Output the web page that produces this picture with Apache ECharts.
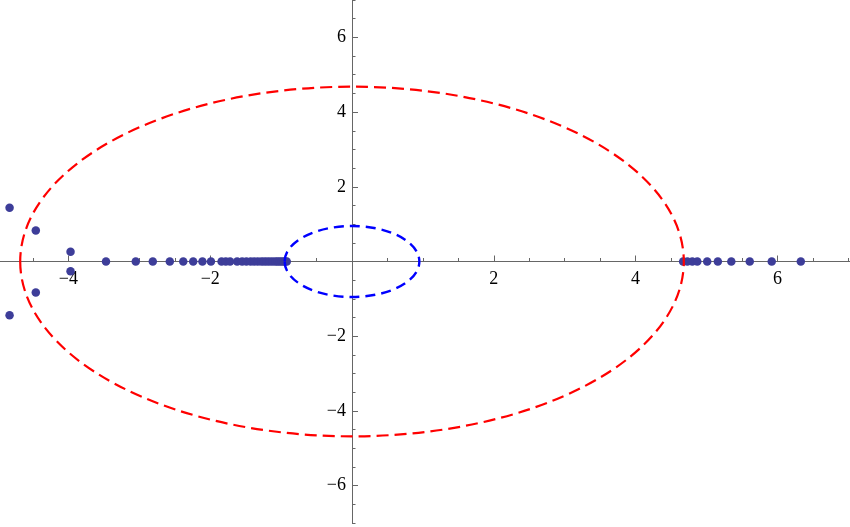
<!DOCTYPE html>
<html>
<head>
<meta charset="utf-8">
<script src="https://cdn.jsdelivr.net/npm/echarts@6/dist/echarts.min.js"></script>
<style>
html,body{margin:0;padding:0;background:#fff;}
#chart{width:850px;height:527px;}
</style>
</head>
<body>
<div id="chart"></div>
<script>
// Points on the real axis (x values)
const realPointsX = [
  -3.47, -3.05, -2.81, -2.57, -2.38, -2.24, -2.11, -1.99,
  -1.84, -1.78, -1.72,
  -1.62, -1.55, -1.49, -1.43, -1.38, -1.33, -1.28, -1.24, -1.20,
  -1.16, -1.12, -1.08, -1.05, -1.02, -0.99, -0.96, -0.94, -0.92,
  4.67, 4.73, 4.80, 4.87, 5.01, 5.16, 5.35, 5.61, 5.92, 6.33
];
// Complex points (re, im)
const complexRe = [-4.83, -4.83, -4.46, -4.46, -3.97, -3.97];
const complexIm = [1.44, -1.44, 0.83, -0.83, 0.26, -0.26];
// Dashed circles: radius
const redRadius = 4.68;
const blueRadius = 0.95;

// Axis ranges and tick values
const xRange = [-4.965, 7.024];
const yRange = [-7, 7];
const xLabels = [-4, -2, 2, 4, 6];
const yLabels = [-6, -4, -2, 2, 4, 6];
const xMajorTicks = [-4, -2, 0, 2, 4, 6];
const yMajorTicks = [-6, -4, -2, 0, 2, 4, 6];
const xMinorTicks = [-4.5, -3.5, -3, -2.5, -1.5, -1, -0.5, 0.5, 1, 1.5, 2.5, 3, 3.5, 4.5, 5, 5.5, 6.5, 7];
const yMinorTicks = [-7, -6.5, -5.5, -5, -4.5, -3.5, -3, -2.5, -1.5, -1, -0.5, 0.5, 1, 1.5, 2.5, 3, 3.5, 4.5, 5, 5.5, 6.5, 7];

const pointData = realPointsX.map(x => [x, 0])
  .concat(complexRe.map((re, i) => [re, complexIm[i]]));

const circles = [
  {value: [0, 0, redRadius], color: '#ff0000', width: 2.2, dash: [12, 6]},
  {value: [0, 0, blueRadius], color: '#0000ff', width: 2.4, dash: [10, 6]}
];

const fmt = v => String(v).replace('-', '\u2212');
const axisColor = '#666666';
const fontFamily = 'Liberation Serif';
const W = 850, H = 527;
const gridPos = {left: 0, right: 0, top: 0, bottom: 4, containLabel: false, outerBoundsMode: 'none'};
const plotH = H - gridPos.bottom;
// axis offsets so that axes cross at (0,0)
const xZeroPx = (0 - xRange[0]) / (xRange[1] - xRange[0]) * W;
const yZeroPx = (yRange[1] - 0) / (yRange[1] - yRange[0]) * plotH;
const xAxisOffset = -(plotH - yZeroPx);
const yAxisOffset = -xZeroPx;

const chart = echarts.init(document.getElementById('chart'));
chart.setOption({
  animation: false,
  backgroundColor: '#ffffff',
  grid: [Object.assign({}, gridPos), Object.assign({}, gridPos)],
  xAxis: [
    {
      type: 'value', gridIndex: 0, min: xRange[0], max: xRange[1], position: 'bottom', offset: xAxisOffset,
      axisLine: {onZero: false, lineStyle: {color: axisColor, width: 1}},
      axisTick: {inside: true, length: 3.5, customValues: xMinorTicks, lineStyle: {color: axisColor}},
      splitLine: {show: false},
      axisLabel: {customValues: xLabels, formatter: fmt, color: '#000', fontFamily: fontFamily, fontSize: 18, margin: 9}
    },
    {
      type: 'value', gridIndex: 1, min: xRange[0], max: xRange[1], position: 'bottom', offset: xAxisOffset,
      axisLine: {show: false, onZero: false},
      axisTick: {inside: true, length: 6, customValues: xMajorTicks, lineStyle: {color: axisColor}},
      splitLine: {show: false},
      axisLabel: {show: false}
    }
  ],
  yAxis: [
    {
      type: 'value', gridIndex: 0, min: yRange[0], max: yRange[1], position: 'left', offset: yAxisOffset,
      axisLine: {onZero: false, lineStyle: {color: axisColor, width: 1}},
      axisTick: {inside: true, length: 3.5, customValues: yMinorTicks, lineStyle: {color: axisColor}},
      splitLine: {show: false},
      axisLabel: {customValues: yLabels, formatter: fmt, color: '#000', fontFamily: fontFamily, fontSize: 18, margin: 6}
    },
    {
      type: 'value', gridIndex: 1, min: yRange[0], max: yRange[1], position: 'left', offset: yAxisOffset,
      axisLine: {show: false, onZero: false},
      axisTick: {inside: true, length: 6, customValues: yMajorTicks, lineStyle: {color: axisColor}},
      splitLine: {show: false},
      axisLabel: {show: false}
    }
  ],
  series: [
    {
      type: 'scatter',
      xAxisIndex: 0, yAxisIndex: 0,
      data: pointData,
      symbol: 'circle',
      symbolSize: 8.5,
      itemStyle: {color: '#3d3d99', opacity: 1},
      z: 2
    },
    {
      type: 'custom',
      xAxisIndex: 0, yAxisIndex: 0,
      z: 3,
      data: circles,
      renderItem: function (params, api) {
        const cx = api.value(0), cy = api.value(1), r = api.value(2);
        const c = api.coord([cx, cy]);
        const p = api.coord([cx + r, cy + r]);
        const rx = Math.abs(p[0] - c[0]);
        const ry = Math.abs(p[1] - c[1]);
        const item = circles[params.dataIndex];
        return {
          type: 'path',
          shape: {
            pathData: 'M ' + (c[0] - rx) + ' ' + c[1] +
              ' A ' + rx + ' ' + ry + ' 0 1 0 ' + (c[0] + rx) + ' ' + c[1] +
              ' A ' + rx + ' ' + ry + ' 0 1 0 ' + (c[0] - rx) + ' ' + c[1] + ' Z'
          },
          style: {fill: 'none', stroke: item.color, lineWidth: item.width, lineDash: item.dash}
        };
      }
    }
  ]
});
</script>
</body>
</html>
